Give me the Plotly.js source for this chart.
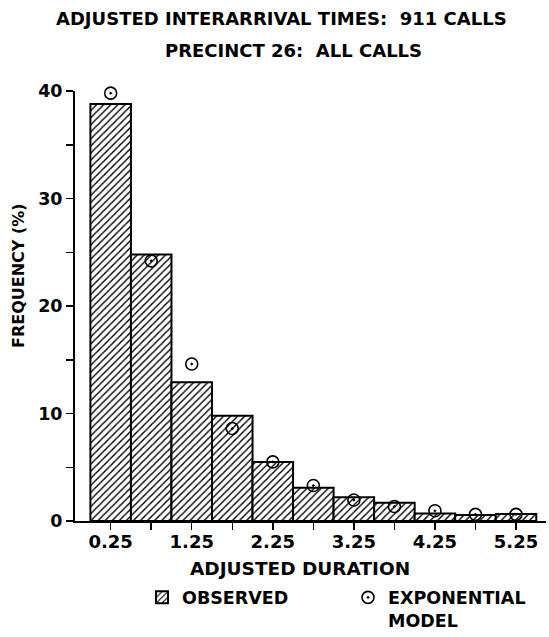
<!DOCTYPE html>
<html>
<head>
<meta charset="utf-8">
<script src="https://cdn.plot.ly/plotly-3.0.1.min.js"></script>
<style>html,body{margin:0;padding:0;background:#fff;}#chart{width:549px;height:637px;}</style>
</head>
<body>
<div id="chart"></div>
<script>
// Bin centres (adjusted duration), bin width 0.5
var durations = [0.25, 0.75, 1.25, 1.75, 2.25, 2.75, 3.25, 3.75, 4.25, 4.75, 5.25];
var observed = [38.8, 24.8, 12.9, 9.8, 5.5, 3.1, 2.2, 1.7, 0.7, 0.55, 0.65];
var exponentialModel = [39.8, 24.2, 14.6, 8.6, 5.5, 3.3, 1.95, 1.35, 0.95, 0.62, 0.62];
var xTickVals = durations;
var xTickText = ['0.25', '', '1.25', '', '2.25', '', '3.25', '', '4.25', '', '5.25'];
var yTickVals = [0, 5, 10, 15, 20, 25, 30, 35, 40];
var yTickText = ['0', '', '10', '', '20', '', '30', '', '40'];

var FONT = 'DejaVu Sans, Liberation Sans, sans-serif';
function f(size) { return {family: FONT, size: size, color: 'black', weight: 'bold'}; }

var bars = {
  type: 'bar',
  x: durations,
  y: observed,
  width: 0.5,
  name: 'OBSERVED',
  marker: {
    color: 'white',
    line: {color: 'black', width: 2},
    pattern: {shape: '/', fgcolor: 'black', bgcolor: 'white', size: 5, solidity: 0.28}
  }
};
var model = {
  type: 'scatter',
  mode: 'markers',
  x: durations,
  y: exponentialModel,
  name: 'EXPONENTIAL<br>MODEL',
  cliponaxis: false,
  marker: {symbol: 'circle-open-dot', size: 12, color: 'black', line: {color: 'black', width: 1.6}}
};

var layout = {
  width: 549, height: 637,
  margin: {l: 75, r: 3, t: 91, b: 116, autoexpand: false},
  paper_bgcolor: 'white', plot_bgcolor: 'white',
  font: f(17),
  showlegend: true,
  legend: {
    orientation: 'h', x: (142 - 75) / 471, y: -0.136, xanchor: 'left', yanchor: 'top',
    valign: 'top', entrywidth: 161, font: f(17.5)
  },
  xaxis: {
    range: [-0.19, 5.62],
    showgrid: false, zeroline: false,
    showline: true, linecolor: 'black', linewidth: 2,
    ticks: 'outside', ticklen: 7, tickwidth: 1.5, tickcolor: 'black',
    ticklabelstandoff: -4,
    tickmode: 'array', tickvals: xTickVals, ticktext: xTickText,
    tickfont: f(18)
  },
  yaxis: {
    range: [0, 40],
    showgrid: false, zeroline: false,
    showline: true, linecolor: 'black', linewidth: 2,
    ticks: 'outside', ticklen: 7, tickwidth: 1.5, tickcolor: 'black',
    tickmode: 'array', tickvals: yTickVals, ticktext: yTickText,
    tickfont: f(17.5)
  },
  annotations: [
    {text: 'ADJUSTED INTERARRIVAL TIMES:  911 CALLS', xref: 'paper', yref: 'paper',
     x: (281 - 75) / 471, y: 1 + (91 - 18) / 430, xanchor: 'center', yanchor: 'middle',
     showarrow: false, font: f(18)},
    {text: 'PRECINCT 26:  ALL CALLS', xref: 'paper', yref: 'paper',
     x: (293 - 75) / 471, y: 1 + (91 - 50) / 430, xanchor: 'center', yanchor: 'middle',
     showarrow: false, font: f(18)},
    {text: 'ADJUSTED DURATION', xref: 'paper', yref: 'paper',
     x: (300 - 75) / 471, y: -(568 - 521) / 430, xanchor: 'center', yanchor: 'middle',
     showarrow: false, font: f(18.5)},
    {text: 'FREQUENCY (%)', xref: 'paper', yref: 'paper', textangle: -90,
     x: (18 - 75) / 471, y: (521 - 276) / 430, xanchor: 'center', yanchor: 'middle',
     showarrow: false, font: f(16)}
  ]
};

Plotly.newPlot('chart', [bars, model], layout, {displayModeBar: false, staticPlot: true});
</script>
</body>
</html>
